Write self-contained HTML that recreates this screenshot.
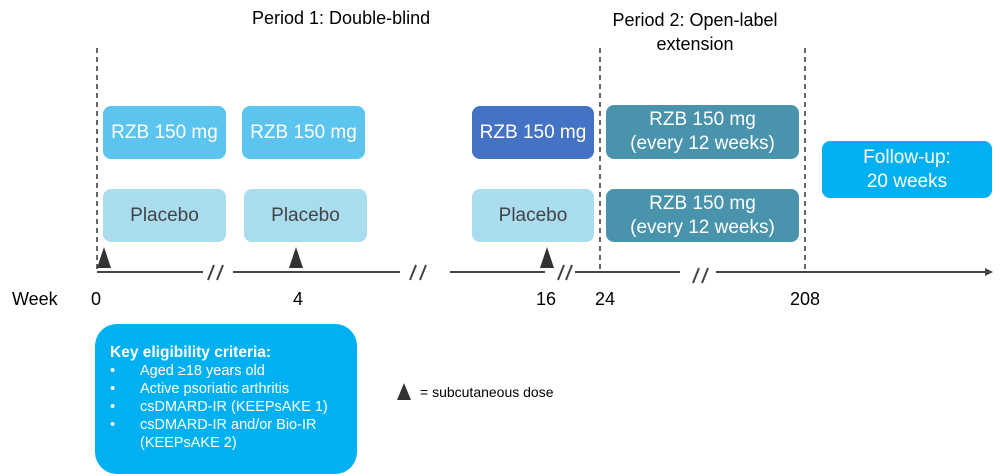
<!DOCTYPE html>
<html><head><style>
body{margin:0;width:1000px;height:476px;background:#fff;overflow:hidden;position:relative;font-family:"Liberation Sans",sans-serif;}
.b{position:absolute;border-radius:8px;color:#fff;display:flex;align-items:center;justify-content:center;text-align:center;font-size:19px;line-height:24px;font-family:"Liberation Sans",sans-serif;}
.t{position:absolute;font-size:18px;color:#000;}
</style></head><body>
<svg width="1000" height="476" style="position:absolute;left:0;top:0">
<g stroke="#333" stroke-width="1.5" stroke-dasharray="5,4" fill="none">
<line x1="97" y1="48" x2="97" y2="272"/>
<line x1="600" y1="48" x2="600" y2="272"/>
<line x1="805" y1="48" x2="805" y2="272"/>
</g>
<g stroke="#444" stroke-width="2" fill="none">
<line x1="97" y1="272" x2="203" y2="272"/>
<line x1="233" y1="272" x2="400" y2="272"/>
<line x1="450" y1="272" x2="545" y2="272"/>
<line x1="575" y1="272" x2="680" y2="272"/>
<line x1="716" y1="272" x2="985" y2="272"/>
<line x1="208" y1="280" x2="214" y2="265"/><line x1="217" y1="280" x2="223" y2="265"/>
<line x1="410" y1="280" x2="416" y2="265"/><line x1="420" y1="280" x2="426" y2="265"/>
<line x1="558" y1="280" x2="564" y2="265"/><line x1="566" y1="280" x2="572" y2="265"/>
<line x1="693" y1="283" x2="699" y2="268"/><line x1="702" y1="283" x2="708" y2="268"/>
</g>
<polygon points="985,268 993,272 985,276" fill="#444"/>
<g fill="#333">
<polygon points="97,268 104,247 111,268"/>
<polygon points="289,268 296,247 303,268"/>
<polygon points="540,268 547,247 554,268"/>
<polygon points="397,400 404,383 411,400"/>
</g>
</svg>
<div class="t" style="left:252px;top:8px">Period 1: Double-blind</div>
<div class="t" style="left:600px;top:8px;width:190px;text-align:center;line-height:24px">Period 2: Open-label<br>extension</div>
<div class="b" style="left:103px;top:106px;width:123px;height:53px;background:#5bc5f0">RZB 150 mg</div>
<div class="b" style="left:242px;top:106px;width:123px;height:53px;background:#5bc5f0">RZB 150 mg</div>
<div class="b" style="left:472px;top:106px;width:122px;height:53px;background:#4472c4">RZB 150 mg</div>
<div class="b" style="left:103px;top:189px;width:123px;height:53px;background:#a9dcee;color:#444">Placebo</div>
<div class="b" style="left:244px;top:189px;width:123px;height:53px;background:#a9dcee;color:#444">Placebo</div>
<div class="b" style="left:472px;top:189px;width:122px;height:53px;background:#a9dcee;color:#444">Placebo</div>
<div class="b" style="left:606px;top:105px;width:193px;height:54px;background:#4a93ac">RZB 150 mg<br>(every 12 weeks)</div>
<div class="b" style="left:606px;top:189px;width:193px;height:53px;background:#4a93ac">RZB 150 mg<br>(every 12 weeks)</div>
<div class="b" style="left:822px;top:141px;width:170px;height:57px;background:#00b0f0">Follow-up:<br>20 weeks</div>
<div class="t" style="left:12px;top:289px">Week</div>
<div class="t" style="left:91px;top:289px">0</div>
<div class="t" style="left:293px;top:289px">4</div>
<div class="t" style="left:536px;top:289px">16</div>
<div class="t" style="left:595px;top:289px">24</div>
<div class="t" style="left:790px;top:289px">208</div>
<div style="position:absolute;left:420px;top:384px;font-size:14px">= subcutaneous dose</div>
<div style="position:absolute;left:95px;top:324px;width:262px;height:150px;border-radius:22px;background:#00b0f0;color:#fff;font-family:'Liberation Sans',sans-serif;font-size:14.5px;line-height:18px;box-sizing:border-box;padding:20px 0 0 15px">
<div style="font-weight:bold;font-size:15.5px">Key eligibility criteria:</div>
<div style="position:relative;padding-left:30px"><span style="position:absolute;left:0">•</span>Aged ≥18 years old</div>
<div style="position:relative;padding-left:30px"><span style="position:absolute;left:0">•</span>Active psoriatic arthritis</div>
<div style="position:relative;padding-left:30px"><span style="position:absolute;left:0">•</span>csDMARD-IR (KEEPsAKE 1)</div>
<div style="position:relative;padding-left:30px"><span style="position:absolute;left:0">•</span>csDMARD-IR and/or Bio-IR<br>(KEEPsAKE 2)</div>
</div>
</body></html>
